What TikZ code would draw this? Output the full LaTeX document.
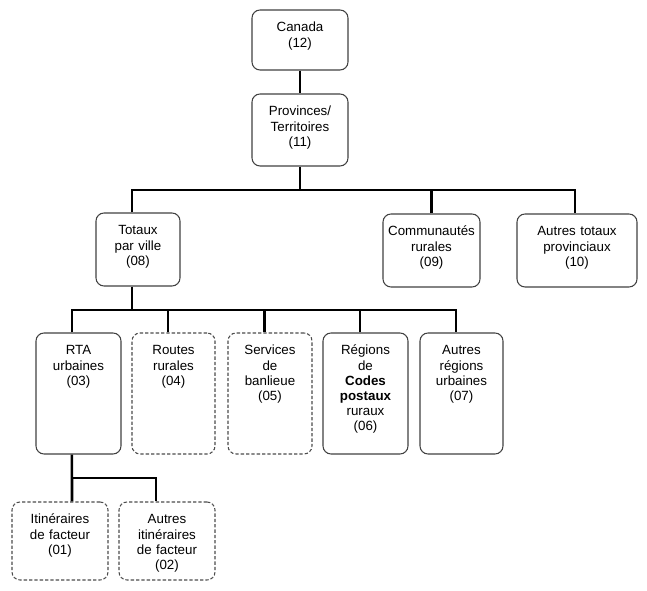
\documentclass[tikz,border=0pt]{standalone}
\usepackage{fontspec}
\setmainfont{Liberation Sans}

\begin{document}
\begin{tikzpicture}[
    box/.style={draw=black!75, line width=0.8pt, rounded corners=6pt, inner sep=0pt,
      align=center, text height=16.5pt, font=\fontsize{10pt}{11.4pt}\selectfont},
    opt/.style={box, draw=black!70, dash pattern=on 2.5pt off 1.5pt},
    link/.style={line width=1.9pt},
    x=0.75pt,y=-0.75pt
    ]
    \useasboundingbox (0,0) rectangle (647,591);
    % top levels
    \node[box, text width=72pt, text depth=28.5pt] (can) at (300,40) {Canada\\(12)};
    \node[box, text width=72pt, text depth=37.5pt] (prov) at (300,130) {Provinces/\\Territoires\\(11)};
    \node[box, text width=63pt, text depth=38.25pt] (tot) at (138,249.5) {Totaux\\par ville\\(08)};
    \node[box, text width=72.75pt, text depth=38.25pt] (com) at (431.5,250.5) {Communautés\\rurales\\(09)};
    \node[box, text width=90pt, text depth=38.25pt] (aut) at (577,250.5) {Autres totaux\\provinciaux\\(10)};
    % city level
    \node[box, text width=63.75pt, text depth=74.25pt] (rta) at (78.5,393.5) {RTA\\urbaines\\(03)};
    \node[opt, text width=62.25pt, text depth=74.25pt] (rou) at (173.5,393.5) {Routes\\rurales\\(04)};
    \node[opt, text width=63pt, text depth=74.25pt] (ser) at (270,393.5) {Services\\de\\banlieue\\(05)};
    \node[box, text width=63.75pt, text depth=74.25pt] (reg) at (365.5,393.5) {Régions\\de\\\textbf{Codes}\\\textbf{postaux}\\ruraux\\(06)};
    \node[box, text width=62.25pt, text depth=74.25pt] (aur) at (461.5,393.5) {Autres\\régions\\urbaines\\(07)};
    % routes
    \node[opt, text width=72pt, text depth=42pt] (iti) at (60,541) {Itinéraires\\de facteur\\(01)};
    \node[opt, text width=72pt, text depth=42pt] (aiti) at (167,541) {Autres\\itinéraires\\de facteur\\(02)};

    \coordinate (bus1) at (300,190);
    \coordinate (bus2) at (132,310);
    \coordinate (bus3) at (72,478);

    \draw[link] (can) -- (prov);
    \draw[link] (prov) -- (bus1);
    \draw[link] ([xshift=-4.5pt]tot.north) |- (bus1) -| ([xshift=-1.5pt]aut.north);
    \draw[link] (com.north) -- (com.north |- bus1);

    \draw[link] ([xshift=-4.5pt]tot.south) -- (bus2);
    \draw[link] ([xshift=-4.9pt]rta.north) |- (bus2) -| ([xshift=-4.1pt]aur.north);
    \foreach \n in {rou,ser,reg}
      \draw[link] ([xshift=-4.1pt]\n.north) -- ([xshift=-4.1pt]\n.north |- bus2);

    \draw[link] ([xshift=-4.9pt]rta.south) -- ([xshift=9pt]iti.north);
    \draw[link] (bus3) -| ([xshift=-8.25pt]aiti.north);
  \end{tikzpicture}
\end{document}
